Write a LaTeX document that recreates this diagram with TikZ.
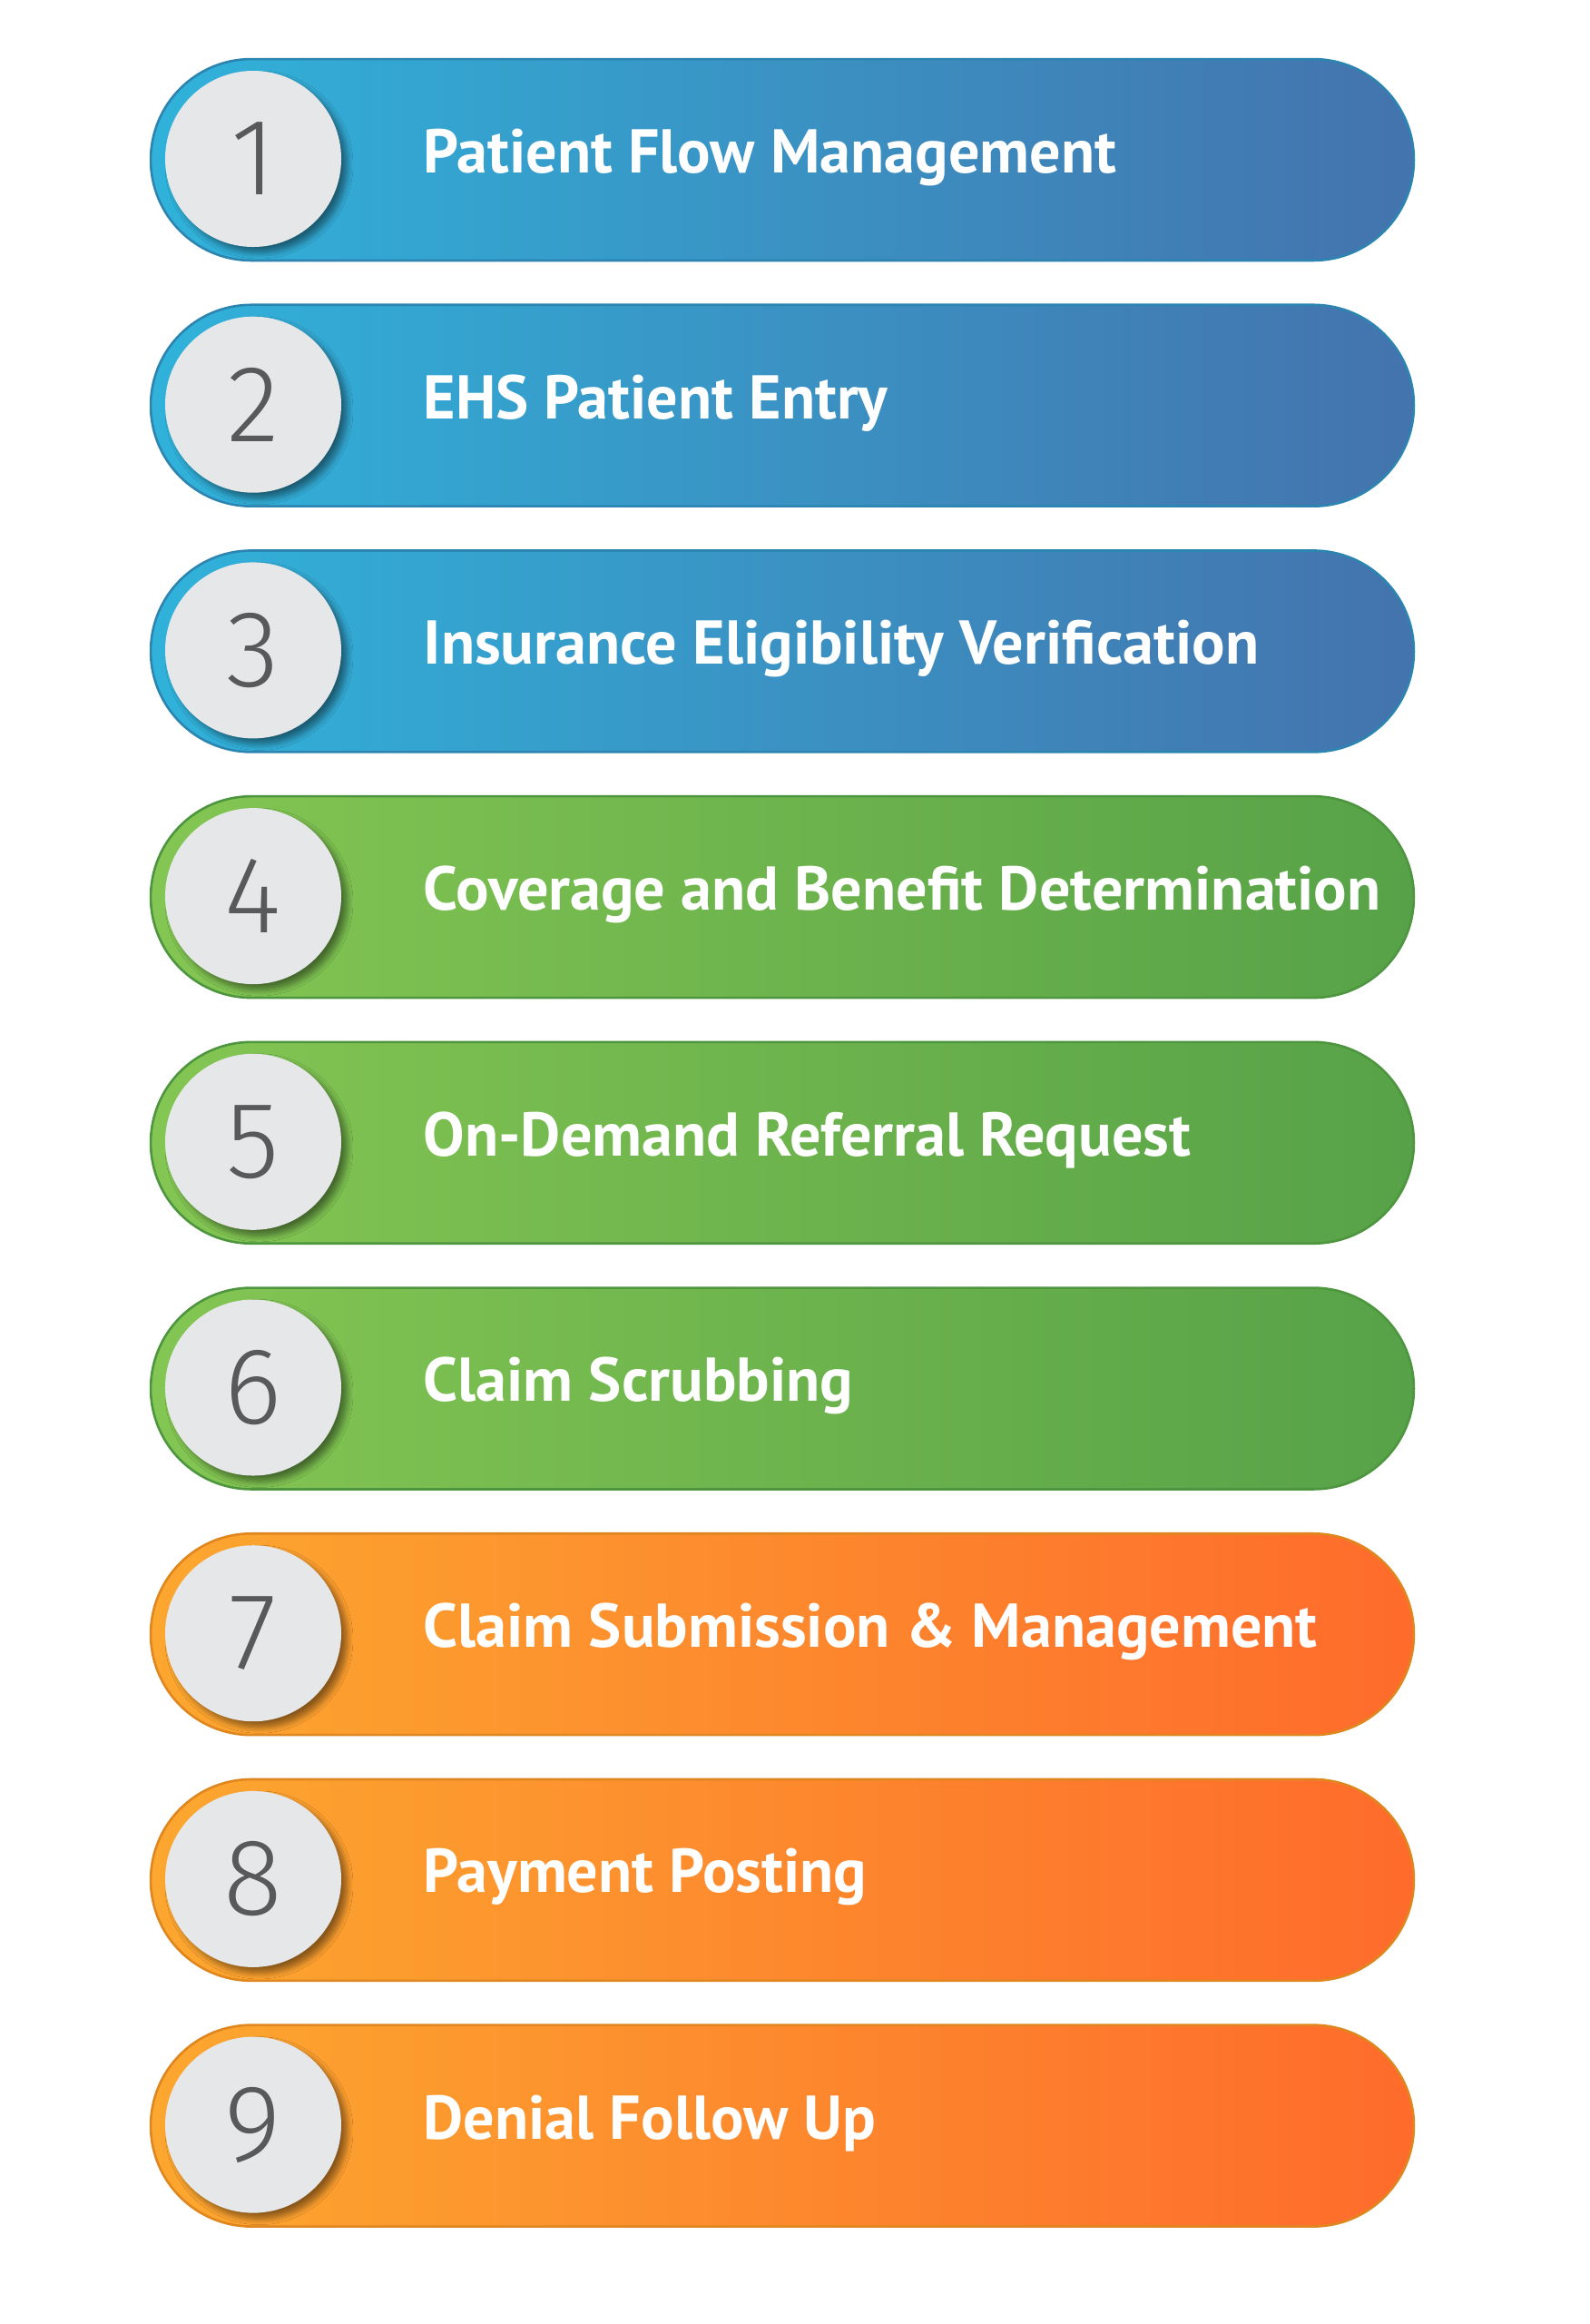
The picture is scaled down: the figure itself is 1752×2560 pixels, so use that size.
\documentclass[tikz,border=0pt]{standalone}
\usepackage{fontspec}
\setmainfont{PT Sans}
\newfontfamily\numfont{Fira Sans Light}
\usetikzlibrary{shapes.misc,shadows.blur}

\definecolor{blueL}{HTML}{30B2DA}
\definecolor{blueR}{HTML}{4473AD}
\definecolor{blueB}{HTML}{2C85B0}
\definecolor{greenL}{HTML}{84C653}
\definecolor{greenR}{HTML}{57A248}
\definecolor{greenB}{HTML}{4E953F}
\definecolor{orangeL}{HTML}{FCA72F}
\definecolor{orangeR}{HTML}{FE6B2C}
\definecolor{orangeB}{HTML}{E0861E}
\definecolor{discgray}{HTML}{E6E7E9}
\definecolor{numgray}{HTML}{58595B}

\tikzset{
  pillbox/.style={rounded rectangle, minimum width=429pt, minimum height=68.4pt,
    inner sep=0pt, line width=0.8pt},
  numdisc/.style={circle, fill=discgray, minimum size=59.8pt, inner sep=0pt,
    blur shadow={shadow xshift=2pt, shadow yshift=-2pt, shadow blur steps=8, shadow opacity=45},
    text=numgray, font=\numfont\fontsize{37}{37}\selectfont},
  steplabel/.style={anchor=west, inner sep=0pt, text=white,
    font=\bfseries\fontsize{21}{21}\selectfont}
}

\begin{document}
\begin{tikzpicture}[x=0.308219pt,y=0.308219pt]
  \useasboundingbox (0,0) rectangle (1752,-2560);
  % steps
  \foreach \i/\txt/\cl/\cr/\cb in {
    1/Patient Flow Management/blueL/blueR/blueB,
    2/EHS Patient Entry/blueL/blueR/blueB,
    3/Insurance Eligibility Verification/blueL/blueR/blueB,
    4/Coverage and Benefit Determination/greenL/greenR/greenB,
    5/On-Demand Referral Request/greenL/greenR/greenB,
    6/Claim Scrubbing/greenL/greenR/greenB,
    7/Claim Submission \& Management/orangeL/orangeR/orangeB,
    8/Payment Posting/orangeL/orangeR/orangeB,
    9/Denial Follow Up/orangeL/orangeR/orangeB}
  {
    \pgfmathsetmacro{\cy}{-176-270.7*(\i-1)}
    \node[pillbox, draw=\cb, left color=\cl, right color=\cr] (pill\i) at (862,\cy) {};
    \node[numdisc] (num\i) at (279,\cy+1) {\i};
    \node[steplabel] (lbl\i) at (466,\cy+3) {\txt};
  }
\end{tikzpicture}
\end{document}
